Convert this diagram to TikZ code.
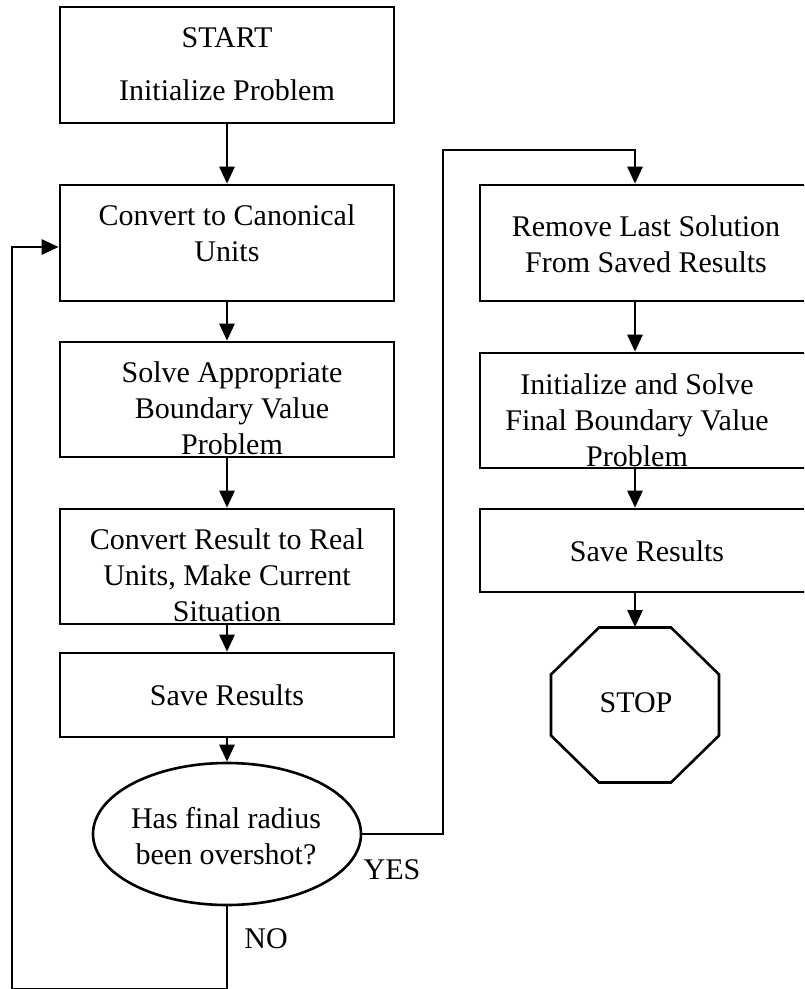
\documentclass[tikz,border=0pt]{standalone}
\usepackage{fontspec}
\setmainfont{Liberation Serif}
\usetikzlibrary{arrows.meta,calc,shapes.geometric}
\begin{document}
\begin{tikzpicture}[x=0.5pt,y=-0.5pt,
  every node/.style={font=\fontsize{15}{18}\selectfont},
  box/.style={draw,line width=1.3pt,rectangle,inner sep=0pt},
  txt/.style={align=center,inner sep=0pt},
  lbl/.style={inner sep=0pt},
  conn/.style={line width=1.3pt},
  arr/.style={conn,-{Triangle[length=8.5pt,width=7.5pt]}}]
\useasboundingbox (0,0) rectangle (804,989);
\clip (0,0) rectangle (804,989);
% left column boxes
\node[box,minimum width=167pt,minimum height=58pt] (b1) at (227,65) {};
\node[box,minimum width=167pt,minimum height=58pt] (b2) at (227,243) {};
\node[box,minimum width=167pt,minimum height=57.5pt] (b3) at (227,399.5) {};
\node[box,minimum width=167pt,minimum height=57.5pt] (b4) at (227,566.5) {};
\node[box,minimum width=167pt,minimum height=42pt] (b5) at (227,695) {};
\node[draw,line width=1.3pt,ellipse,inner sep=0pt,minimum width=134pt,minimum height=71pt] (dec) at (227,834) {};
% right column boxes
\node[box,minimum width=165pt,minimum height=58pt] (r1) at (645,243) {};
\node[box,minimum width=165pt,minimum height=57.5pt] (r2) at (645,410.5) {};
\node[box,minimum width=165pt,minimum height=41.5pt] (r3) at (645,550.5) {};
\node[rectangle,inner sep=0pt,minimum width=84pt,minimum height=77.5pt] (stop) at (635,705) {};
\draw[line width=1.3pt] ($(stop)+(-36,-77.5)$) -- ($(stop)+(36,-77.5)$) -- ($(stop)+(84,-30.5)$) -- ($(stop)+(84,30.5)$) -- ($(stop)+(36,77.5)$) -- ($(stop)+(-36,77.5)$) -- ($(stop)+(-84,30.5)$) -- ($(stop)+(-84,-30.5)$) -- cycle;
% texts
\node[txt] (t1) at (227,64) {START\\[8.5pt]Initialize Problem};
\node[txt] (t2) at (227,233) {Convert to Canonical\\Units};
\node[txt] (t3) at (232,408) {Solve Appropriate\\Boundary Value\\Problem};
\node[txt] (t4) at (227,575) {Convert Result to Real\\Units, Make Current\\Situation};
\node[txt] (t5) at (227,695) {Save Results};
\node[txt] (t6) at (226,836) {Has final radius\\been overshot?};
\node[txt] (t7) at (646,244) {Remove Last Solution\\From Saved Results};
\node[txt] (t8) at (637,420) {Initialize and Solve\\Final Boundary Value\\Problem};
\node[txt] (t9) at (647,551) {Save Results};
\node[txt] (t10) at (636,703) {STOP};
\node[lbl] (yes) at (392,870) {YES};
\node[lbl] (no) at (266,939) {NO};
% connectors
\coordinate (lc) at (12,989);
\coordinate (yc) at (443,150);
\draw[arr] (b1.south) -- (b2.north);
\draw[arr] (b2.south) -- (b3.north);
\draw[arr] (b3.south) -- (b4.north);
\draw[arr] (b4.south) -- (b5.north);
\draw[arr] (b5.south) -- (dec.north);
\draw[conn] (dec.south) |- (lc);
\draw[arr] (lc) |- ($(b2.west)+(0,4)$);
\draw[arr] (dec.east) -| (yc) -| (r1.north -| stop.north);
\draw[arr] (r1.south -| stop.north) -- (r2.north -| stop.north);
\draw[arr] (r2.south -| stop.north) -- (r3.north -| stop.north);
\draw[arr] (r3.south -| stop.north) -- (stop.north);
\end{tikzpicture}
\end{document}
